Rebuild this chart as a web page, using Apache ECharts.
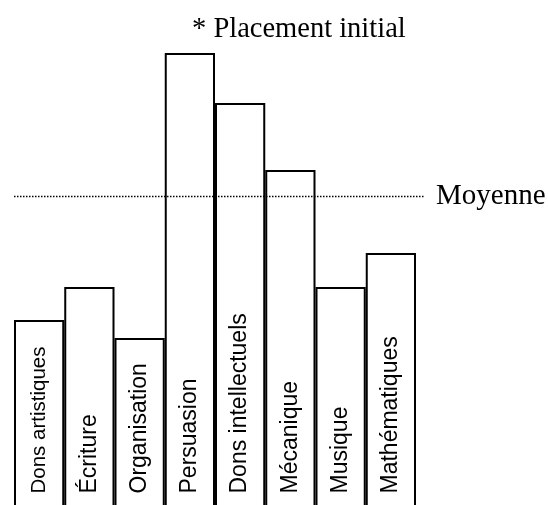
<!DOCTYPE html>
<html>
<head>
<meta charset="utf-8">
<script src="https://cdn.jsdelivr.net/npm/echarts@6/dist/echarts.min.js"></script>
<style>
html,body{margin:0;padding:0;background:#fff;}
#chart{width:548px;height:505px;}
</style>
</head>
<body>
<div id="chart"></div>
<script>
var categories = ['Dons artistiques', 'Écriture', 'Organisation', 'Persuasion', 'Dons intellectuels', 'Mécanique', 'Musique', 'Mathématiques'];
var values = [192, 225, 174, 459, 409, 342, 225, 259];
var labelSizes = [20.5, 23, 23, 23, 23, 23, 23, 23];
var moyenne = 315.5;
var titleText = '* Placement initial';
var moyenneLabel = 'Moyenne';

var chart = echarts.init(document.getElementById('chart'), null, {renderer: 'canvas'});

var barData = values.map(function (v, i) {
  return {
    value: v,
    label: { fontSize: labelSizes[i] }
  };
});

var option = {
  animation: false,
  backgroundColor: '#fff',
  title: {
    text: titleText,
    left: 187,
    top: 10,
    textStyle: {
      fontFamily: 'Liberation Serif',
      fontWeight: 'normal',
      fontSize: 28.5,
      color: '#000'
    }
  },
  grid: [
    { left: 14, width: 402, top: 0, height: 512, outerBoundsMode: 'none', containLabel: false },
    { left: 14, width: 411, top: 0, height: 512, outerBoundsMode: 'none', containLabel: false }
  ],
  xAxis: [
    { type: 'category', data: categories, gridIndex: 0, show: false },
    { type: 'value', min: 0, max: 1, gridIndex: 1, show: false }
  ],
  yAxis: [
    { type: 'value', min: 0, max: 512, gridIndex: 0, show: false },
    { type: 'value', min: 0, max: 512, gridIndex: 1, show: false }
  ],
  series: [
    {
      type: 'bar',
      xAxisIndex: 0,
      yAxisIndex: 0,
      data: barData,
      barCategoryGap: 0,
      barGap: 0,
      itemStyle: { color: '#fff', borderColor: '#000', borderWidth: 2 },
      label: {
        show: true,
        formatter: function (p) { return p.name; },
        position: 'insideBottom',
        rotate: 90,
        align: 'left',
        verticalAlign: 'middle',
        distance: 18.5,
        fontFamily: 'Liberation Sans',
        color: '#000'
      },
      z: 2
    },
    {
      type: 'line',
      xAxisIndex: 1,
      yAxisIndex: 1,
      data: [[0, moyenne], [1, moyenne]],
      symbol: 'none',
      lineStyle: { color: '#000', width: 1.5, type: [1.5, 1.5] },
      endLabel: {
        show: true,
        formatter: moyenneLabel,
        distance: 11,
        fontFamily: 'Liberation Serif',
        fontSize: 29,
        color: '#000'
      },
      z: 3
    }
  ]
};
chart.setOption(option);
</script>
</body>
</html>
